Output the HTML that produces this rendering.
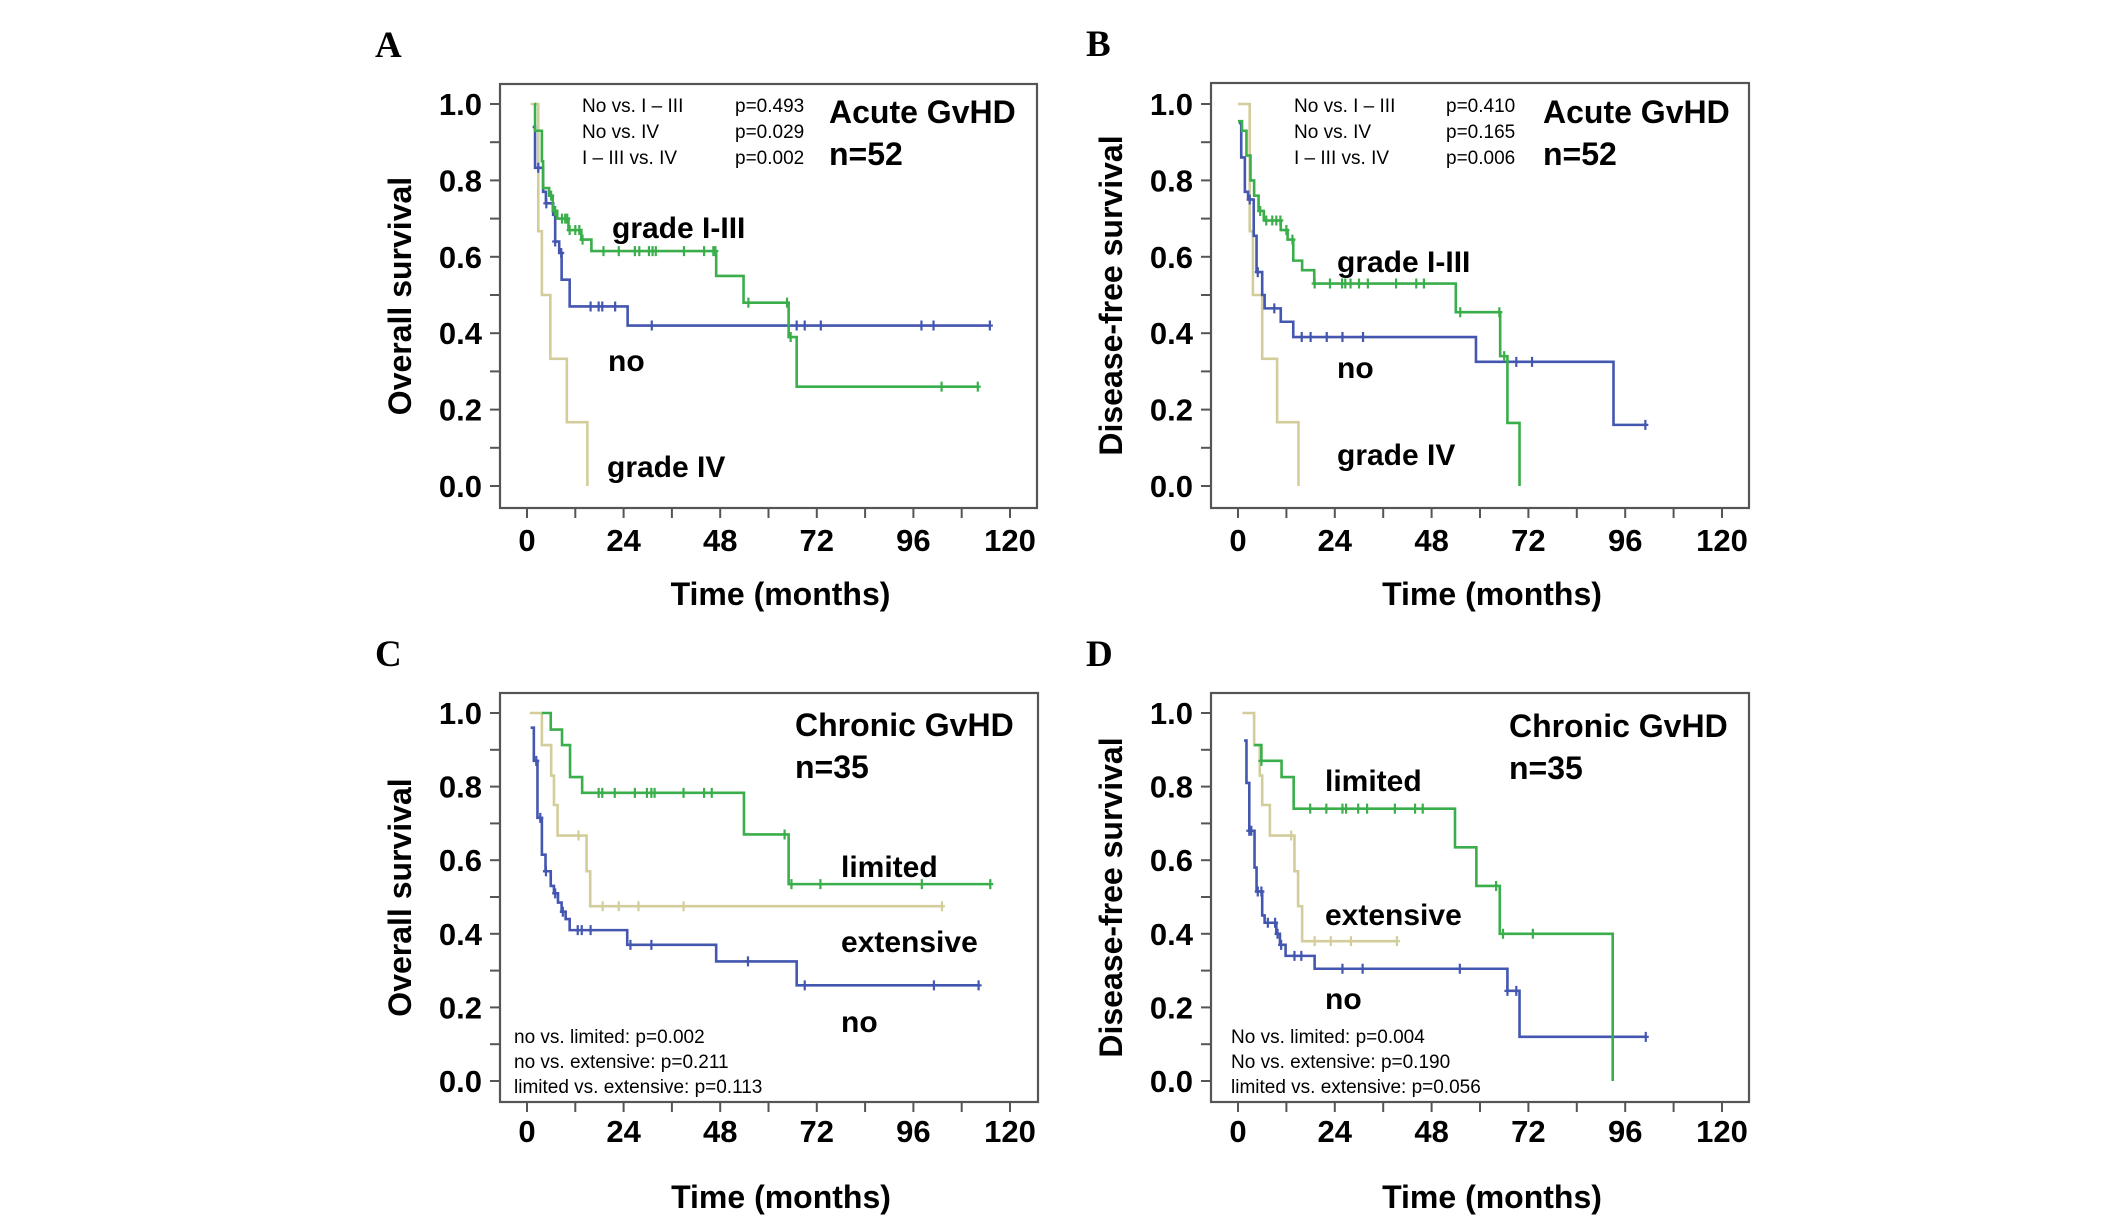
<!DOCTYPE html>
<html><head><meta charset="utf-8"><style>
html,body{margin:0;padding:0;background:#fff;}
svg{display:block;}
text{font-family:"Liberation Sans",Arial,sans-serif;}
</style></head><body>
<svg id="fig" width="2126" height="1222" viewBox="0 0 2126 1222" xmlns="http://www.w3.org/2000/svg"></svg>
<script>
// ---- data (months, survival) ----
const xTicks = [0,24,48,72,96,120];
const yTickLabels = ["0.0","0.2","0.4","0.6","0.8","1.0"];
const yTickValues = [0,0.2,0.4,0.6,0.8,1.0];

// Panel A
const aTanT = [0.9,2.8,3.7,5.8,9.9,15];
const aTanS = [1,0.667,0.5,0.333,0.167,0];
const aTanC = [];
const aBlueT = [1.4,2,4,4.7,6.5,7,8,8.6,10.6,25];
const aBlueS = [0.94,0.833,0.77,0.74,0.71,0.64,0.61,0.54,0.47,0.42];
const aBlueC = [2.8,4.8,7,8.5,15.8,17.8,18.7,21.9,31,67,69,73,98,101,115];
const aGreenT = [1.8,2,3.7,4,5.5,6.4,7.5,10.3,13.5,16,47,53.8,65,67];
const aGreenS = [1,0.93,0.85,0.78,0.76,0.72,0.70,0.67,0.645,0.615,0.55,0.48,0.39,0.26];
const aGreenC = [6,7,8.7,9.5,10,10.6,12,13,13.8,19,22.8,26.8,27.9,30.3,31.2,32,39,44,46.3,46.8,55,64.6,65.5,103,112];
// Panel B
const bTanT = [0,2.9,3.7,6,9.7,15];
const bTanS = [1,0.667,0.5,0.333,0.167,0];
const bTanC = [];
const bBlueT = [0.2,0.8,1.7,2.5,3.9,4.6,6,6.6,10.6,13.7,59,93.1];
const bBlueS = [0.95,0.86,0.77,0.75,0.655,0.56,0.5,0.465,0.43,0.39,0.325,0.16];
const bBlueC = [2.9,4.9,9,15.8,18,22,25.9,31,69,72.9,101];
const bGreenT = [0,1,2.1,3.1,4,5.1,6.4,10.6,12.3,13.7,15.9,18.9,54,65,66.8,69.8];
const bGreenS = [0.955,0.93,0.865,0.8,0.76,0.72,0.695,0.67,0.645,0.59,0.565,0.53,0.455,0.34,0.165,0];
const bGreenC = [5.5,7,8.5,9.5,10.5,12,13.5,19,22.8,25.8,26.6,27.9,30,32.2,39.2,44.2,46.1,55.1,64.8,66];
// Panel C
const cTanT = [0.7,3.7,6,6.7,7.6,14.8,15.7];
const cTanS = [1,0.913,0.83,0.75,0.667,0.57,0.475];
const cTanC = [12.8,18.8,22.8,27.7,38.9,103.1];
const cBlueT = [0.9,1.7,2.6,3.7,4.6,5.9,6.7,7.7,8.6,9.6,10.6,24.9,47,67];
const cBlueS = [0.96,0.87,0.715,0.615,0.57,0.53,0.51,0.485,0.46,0.44,0.41,0.37,0.325,0.26];
const cBlueC = [2.3,3.3,4.7,7,8.9,12.6,13.6,15.8,25.7,30.9,54.9,69,101.1,112.2];
const cGreenT = [3.7,5.9,8.7,10.7,13.7,53.9,65];
const cGreenS = [1,0.955,0.913,0.826,0.783,0.67,0.535];
const cGreenC = [17.8,18.7,21.8,26.8,29.8,30.9,31.7,38.9,44,45.9,64,65.7,72.9,98.1,115.1];
// Panel D
const dTanT = [1.1,4,5.4,6,7.9,14,14.9,15.9];
const dTanS = [1,0.913,0.83,0.75,0.667,0.57,0.475,0.38];
const dTanC = [13.2,19,23,28,39.4];
const dBlueT = [1.5,2.1,2.8,4.1,4.6,6,6.6,9.5,10.4,11.8,19,66.8,69.8];
const dBlueS = [0.925,0.81,0.68,0.58,0.515,0.45,0.43,0.40,0.37,0.34,0.305,0.245,0.12];
const dBlueC = [2.8,3.3,4.9,5.8,7.4,9.2,9.8,10.7,14,15.7,25.9,30.9,55,66.8,69,101.1];
const dGreenT = [4,5.8,10.8,13.8,53.8,59.1,64.9,92.9];
const dGreenS = [0.913,0.87,0.826,0.74,0.635,0.53,0.4,0];
const dGreenC = [5.8,17.9,21.9,25.9,26.8,29.8,32,38.9,43.9,45.8,64,65.7,73.1];

const ends = {aTan:15,aBlue:115,aGreen:112,bTan:15,bBlue:101,bGreen:69.8,cTan:103,cBlue:112,cGreen:115,dTan:39.4,dBlue:101,dGreen:92.9};

const GREEN="#3aae4a", BLUE="#4356b0", TAN="#d3cd9c";
const NS="http://www.w3.org/2000/svg";
const svg=document.getElementById('fig');
function mk(tag,attrs,parent){const e=document.createElementNS(NS,tag);for(const k in attrs)e.setAttribute(k,attrs[k]);(parent||svg).appendChild(e);return e;}
function txt(s,attrs,parent){const e=mk('text',attrs,parent);e.textContent=s;return e;}

const panels=[
 {id:'a',letter:'A',L:500,T:84,R:1037,B:508,y1:104,y0:486,x0:527,x120:1010,ytitle:'Overall survival',xlabY:551,xtitleY:605},
 {id:'b',letter:'B',L:1211,T:83,R:1749,B:508,y1:104,y0:486,x0:1238,x120:1722,ytitle:'Disease-free survival',xlabY:551,xtitleY:605},
 {id:'c',letter:'C',L:500,T:693,R:1038,B:1102,y1:713,y0:1081,x0:527,x120:1010,ytitle:'Overall survival',xlabY:1142,xtitleY:1208},
 {id:'d',letter:'D',L:1211,T:693,R:1749,B:1102,y1:713,y0:1081,x0:1238,x120:1722,ytitle:'Disease-free survival',xlabY:1142,xtitleY:1208}
];
const curveData={
 a:[['tan',aTanT,aTanS,aTanC,TAN],['blue',aBlueT,aBlueS,aBlueC,BLUE],['green',aGreenT,aGreenS,aGreenC,GREEN]],
 b:[['tan',bTanT,bTanS,bTanC,TAN],['blue',bBlueT,bBlueS,bBlueC,BLUE],['green',bGreenT,bGreenS,bGreenC,GREEN]],
 c:[['tan',cTanT,cTanS,cTanC,TAN],['blue',cBlueT,cBlueS,cBlueC,BLUE],['green',cGreenT,cGreenS,cGreenC,GREEN]],
 d:[['tan',dTanT,dTanS,dTanC,TAN],['blue',dBlueT,dBlueS,dBlueC,BLUE],['green',dGreenT,dGreenS,dGreenC,GREEN]]
};

panels.forEach(p=>{
 const g=mk('g',{});
 
 
 const xs=t=>p.x0+(p.x120-p.x0)*t/120;
 const ys=v=>p.y0+(p.y1-p.y0)*v;
 const letter=txt(p.letter,{x:p.L-125,y:p.T-27,'font-size':37,'font-weight':'bold',style:'font-family:"Liberation Serif",serif'},g);
 
 
 const fr=mk('rect',{x:p.L,y:p.T,width:p.R-p.L,height:p.B-p.T,fill:'none',stroke:'#555',"stroke-width":2.2},g);
 
 
 for(let i=0;i<=10;i++){const y=ys(i/10);mk('line',{x1:p.L-10,x2:p.L,y1:y,y2:y,stroke:'#555','stroke-width':2},g);}
 yTickValues.forEach((v,i)=>{const t=txt(yTickLabels[i],{x:p.L-18,y:ys(v)+11,'font-size':31,'font-weight':'bold','text-anchor':'end'},g);
  
  });
 for(let m=0;m<=120;m+=12){const x=xs(m);mk('line',{x1:x,x2:x,y1:p.B,y2:p.B+10,stroke:'#555','stroke-width':2},g);}
 xTicks.forEach(m=>{const t=txt(String(m),{x:xs(m),y:p.xlabY,'font-size':31,'font-weight':'bold','text-anchor':'middle'},g);
  
  });
 const xt=txt('Time (months)',{x:(p.L+p.R)/2+12,y:p.xtitleY,'font-size':32,'font-weight':'bold','text-anchor':'middle'},g);
 
 
 const cy=(p.T+p.B)/2;
 const yt=txt(p.ytitle,{x:p.L-89,y:cy,'font-size':32,'font-weight':'bold','text-anchor':'middle',transform:`rotate(-90 ${p.L-89} ${cy})`},g);
 
 
 curveData[p.id].forEach(([name,T,S,C,col])=>{
  const end=ends[p.id+name.charAt(0).toUpperCase()+name.slice(1)];
  let d=`M${xs(T[0])},${ys(S[0])}`;
  for(let i=1;i<T.length;i++){d+=` H${xs(T[i])} V${ys(S[i])}`;}
  d+=` H${xs(end)}`;
  const path=mk('path',{d:d,fill:'none',stroke:col,'stroke-width':2.6},g);
  
  
  C.forEach(c=>{let v=S[0];for(let i=0;i<T.length;i++){if(T[i]<=c)v=S[i];}
   const x=xs(c),y=ys(v);
   const m=mk('path',{d:`M${x},${y-5} V${y+5} M${x-3},${y} H${x+3}`,stroke:col,'stroke-width':2.2},g);
   
   });
 });
});

function label(s,x,y,size,weight,name){const t=txt(s,{x:x,y:y,'font-size':size,'font-weight':weight});
 
 return t;}
// Panel A annotations
label('No vs. I – III',582,112,19,'normal','p-value-row');
label('No vs. IV',582,138,19,'normal','p-value-row');
label('I – III vs. IV',582,164,19,'normal','p-value-row');
label('p=0.493',735,112,19,'normal','p-value');
label('p=0.029',735,138,19,'normal','p-value');
label('p=0.002',735,164,19,'normal','p-value');
label('Acute GvHD',829,123,32,'bold','panel-title');
label('n=52',829,165,32,'bold','panel-n');
label('grade I-III',612,238,30,'bold','label-grade-i-iii');
label('no',608,371,30,'bold','label-no');
label('grade IV',607,477,30,'bold','label-grade-iv');
// Panel B
label('No vs. I – III',1294,112,19,'normal','p-value-row');
label('No vs. IV',1294,138,19,'normal','p-value-row');
label('I – III vs. IV',1294,164,19,'normal','p-value-row');
label('p=0.410',1446,112,19,'normal','p-value');
label('p=0.165',1446,138,19,'normal','p-value');
label('p=0.006',1446,164,19,'normal','p-value');
label('Acute GvHD',1543,123,32,'bold','panel-title');
label('n=52',1543,165,32,'bold','panel-n');
label('grade I-III',1337,272,30,'bold','label-grade-i-iii');
label('no',1337,378,30,'bold','label-no');
label('grade IV',1337,465,30,'bold','label-grade-iv');
// Panel C
label('Chronic GvHD',795,736,32,'bold','panel-title');
label('n=35',795,778,32,'bold','panel-n');
label('limited',841,877,30,'bold','label-limited');
label('extensive',841,952,30,'bold','label-extensive');
label('no',841,1032,30,'bold','label-no');
label('no vs. limited: p=0.002',514,1043,19,'normal','p-value-row');
label('no vs. extensive: p=0.211',514,1068,19,'normal','p-value-row');
label('limited vs. extensive: p=0.113',514,1093,19,'normal','p-value-row');
// Panel D
label('Chronic GvHD',1509,737,32,'bold','panel-title');
label('n=35',1509,779,32,'bold','panel-n');
label('limited',1325,791,30,'bold','label-limited');
label('extensive',1325,925,30,'bold','label-extensive');
label('no',1325,1009,30,'bold','label-no');
label('No vs. limited: p=0.004',1231,1043,19,'normal','p-value-row');
label('No vs. extensive: p=0.190',1231,1068,19,'normal','p-value-row');
label('limited vs. extensive: p=0.056',1231,1093,19,'normal','p-value-row');
</script>
</body></html>
